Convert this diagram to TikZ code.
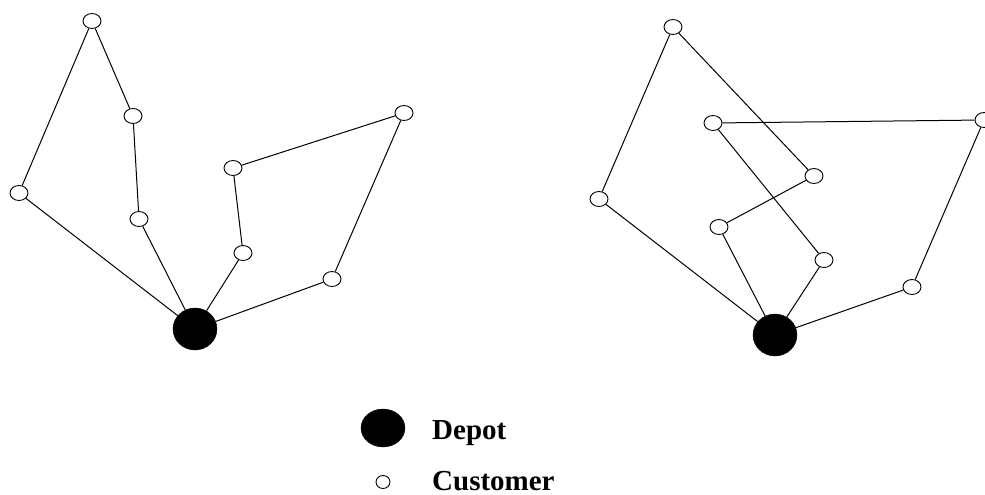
\documentclass[tikz,border=0pt]{standalone}
\usepackage{fontspec}
\setmainfont{Liberation Serif}
\usetikzlibrary{shapes.geometric}
\begin{document}
\begin{tikzpicture}[x=1pt,y=-1pt,
  cust/.style={draw=black,fill=white,ellipse,minimum width=18pt,minimum height=15pt,inner sep=0pt,line width=0.9pt},
  depot/.style={draw=black,fill=black,ellipse,minimum width=44pt,minimum height=42pt,inner sep=0pt},
  route/.style={draw=black,line width=1pt},
  lbl/.style={font=\bfseries\fontsize{29}{30}\selectfont,anchor=base west,inner sep=0pt}]
\useasboundingbox (0,0) rectangle (985,495);
\begin{scope}
\clip (0,0) rectangle (985,495);
% left graph
\node[depot] (D1) at (195,329) {};
\node[cust] (a1) at (92,21) {};
\node[cust] (a2) at (133,116) {};
\node[cust] (a3) at (19,193) {};
\node[cust] (a4) at (139,219) {};
\node[cust] (a5) at (233,168) {};
\node[cust] (a6) at (243,253) {};
\node[cust] (a7) at (404,113) {};
\node[cust] (a8) at (332,279) {};
\draw[route] (D1) -- (a3) -- (a1) -- (a2) -- (a4) -- (D1);
\draw[route] (D1) -- (a6) -- (a5) -- (a7) -- (a8) -- (D1);
% right graph
\node[depot] (D2) at (775,335) {};
\node[cust] (b1) at (673,27) {};
\node[cust] (b2) at (713,123) {};
\node[cust] (b3) at (984,120) {};
\node[cust] (b4) at (599,199) {};
\node[cust] (b5) at (814,176) {};
\node[cust] (b6) at (719,227) {};
\node[cust] (b7) at (824,260) {};
\node[cust] (b8) at (912,287) {};
\draw[route] (D2) -- (b4) -- (b1) -- (b5) -- (b6) -- (D2);
\draw[route] (D2) -- (b7) -- (b2) -- (b3) -- (b8) -- (D2);
\end{scope}
% legend
\node[depot,minimum width=44pt,minimum height=38pt] (LD) at (383,428) {};
\node[cust,minimum width=14pt,minimum height=13pt] (LC) at (383,482) {};
\node[lbl] (tD) at (432,439) {Depot};
\node[lbl] (tC) at (432,490) {Customer};
\end{tikzpicture}
\end{document}
